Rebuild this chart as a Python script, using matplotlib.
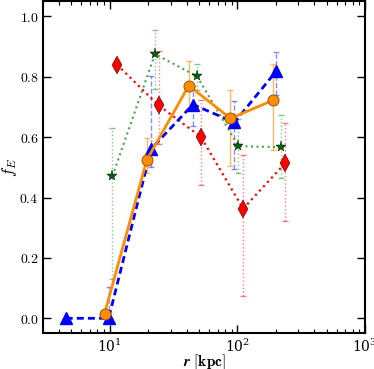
import matplotlib
matplotlib.use("Agg")
import matplotlib.pyplot as plt
from matplotlib.ticker import FuncFormatter
import numpy as np

plt.rcParams['mathtext.fontset'] = 'cm'
plt.rcParams['font.family'] = 'serif'
plt.rcParams['font.serif'] = ['DejaVu Serif']

# blue triangles
r_b = [4.52, 9.8, 21.1, 44.8, 94.9, 201]
f_b = [0.0, 0.0, 0.561, 0.708, 0.649, 0.818]
lo_b = [0.0, 0.0, 0.50, 0.638, 0.493, 0.741]
hi_b = [0.0, 0.105, 0.804, 0.77, 0.719, 0.882]

# orange circles
r_o = [9.1, 19.5, 41.6, 88.3, 190]
f_o = [0.015, 0.524, 0.771, 0.662, 0.722]
lo_o = [0.015, 0.482, 0.69, 0.504, 0.556]
hi_o = [0.015, 0.598, 0.851, 0.757, 0.843]

# green stars
r_g = [10.5, 22.6, 48.2, 102, 220]
f_g = [0.471, 0.875, 0.802, 0.570, 0.567]
lo_g = [0.129, 0.76, 0.757, 0.48, 0.465]
hi_g = [0.631, 0.956, 0.843, 0.66, 0.672]

# red diamonds
r_r = [11.4, 24.2, 51.7, 111, 236]
f_r = [0.840, 0.705, 0.601, 0.363, 0.513]
lo_r = [0.840, 0.576, 0.443, 0.074, 0.322]
hi_r = [0.840, 0.884, 0.724, 0.542, 0.647]


def yerr(f, lo, hi):
    f = np.array(f)
    return [f - np.array(lo), np.array(hi) - f]


fig = plt.figure(figsize=(3.74, 3.69), dpi=100)
ax = fig.add_axes([0.115, 0.0965, 0.861, 0.900])

# error bars first (light, same linestyle as the line)
e = ax.errorbar(r_g, f_g, yerr=yerr(f_g, lo_g, hi_g), fmt='none', ecolor='green',
                alpha=0.45, capsize=2, elinewidth=1)
e[2][0].set_linestyle(':')
e = ax.errorbar(r_r, f_r, yerr=yerr(f_r, lo_r, hi_r), fmt='none', ecolor='red',
                alpha=0.5, capsize=2, elinewidth=1)
e[2][0].set_linestyle(':')
e = ax.errorbar(r_b, f_b, yerr=yerr(f_b, lo_b, hi_b), fmt='none', ecolor='blue',
                alpha=0.45, capsize=2, elinewidth=1)
e[2][0].set_linestyle('--')
ax.errorbar(r_o, f_o, yerr=yerr(f_o, lo_o, hi_o), fmt='none', ecolor='darkorange',
            alpha=0.6, capsize=2, elinewidth=1)

ax.plot(r_g, f_g, ls=':', color='#4aa54a', lw=1.5, marker='*', ms=8,
        mfc='darkgreen', mec='black', mew=0.3)
ax.plot(r_r, f_r, ls=':', color='red', lw=1.6, marker='d', ms=9,
        mfc='red', mec='black', mew=0.3)
ax.plot(r_b, f_b, ls='--', color='blue', lw=2, marker='^', ms=8,
        mfc='blue', mec='blue', dashes=(2.5, 1.5))
ax.plot(r_o, f_o, ls='-', color='darkorange', lw=2, marker='o', ms=8,
        mfc='darkorange', mec='#8a5000', mew=0.6)

ax.set_xscale('log')
ax.set_xlim(3, 1000)
ax.set_ylim(-0.05, 1.05)
ax.set_yticks([0.0, 0.2, 0.4, 0.6, 0.8, 1.0])
ax.yaxis.set_major_formatter(FuncFormatter(lambda v, p: r'$%.1f$' % v))

ax.tick_params(which='both', direction='in', top=True, right=True, labelsize=10)
ax.tick_params(which='major', length=6, width=1, pad=3)
ax.tick_params(which='minor', length=3, width=0.8)
for s in ax.spines.values():
    s.set_linewidth(1.5)

ax.set_xlabel(r'$\mathbfit{r}\ \mathbf{[kpc]}$', fontsize=11, labelpad=-2)
ax.set_ylabel(r'$f_E$', fontsize=12, labelpad=0)

fig.savefig('out.png', dpi=100)
